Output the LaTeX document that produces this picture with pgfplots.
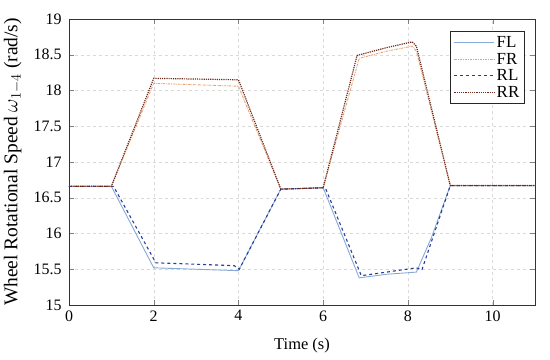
\documentclass[border=0pt]{standalone}
\usepackage{pgfplots}
\pgfplotsset{compat=1.18}
\usepackage{fontspec}
\setmainfont{Liberation Serif}
\definecolor{cFL}{HTML}{86A9D8}
\definecolor{cFR}{HTML}{E8A070}
\definecolor{cRL}{HTML}{2A3C96}
\definecolor{cRR}{HTML}{6B2A1E}
\begin{document}
\begin{tikzpicture}
\begin{axis}[
  scale only axis, width=466bp, height=286bp,
  xmin=0, xmax=11, ymin=15, ymax=19,
  xtick={0,2,...,10}, ytick={15,15.5,...,19},
  yticklabel style={/pgf/number format/fixed, xshift=-4pt},
  xticklabel style={yshift=-2pt},
  /pgf/number format/assume math mode=true,
  tick label style={font=\fontsize{16}{18}\selectfont},
  xlabel style={font=\fontsize{16.5}{19}\selectfont, yshift=-10pt},
  ylabel style={font=\fontsize{19.5}{22}\selectfont, yshift=5pt},
  xlabel={Time (s)},
  ylabel={Wheel Rotational Speed $\omega_{1-4}$ (rad/s)},
  tick align=inside, axis line style={line width=0.9pt, black!80},
  major tick length=5pt,
  grid=major, major grid style={dashed, gray!30},
  legend style={at={(rel axis cs:0.978,0.958)}, anchor=north east, draw=black!85, line width=0.9pt, font=\fontsize{17}{19}\selectfont, row sep=0pt, inner sep=3pt},
  legend cell align=left,
  legend image code/.code={\draw[#1] (0cm,0cm) -- (1.4cm,0cm);},
]
\coordinate (SW) at (rel axis cs:0,0);
\coordinate (NE) at (rel axis cs:1,1);
\addplot[cFL, line width=0.9pt] coordinates {
(0,16.66) (1.0,16.66) (2.0,15.52) (3.0,15.50) (4.0,15.48) (5.0,16.62) (6.0,16.64)
(6.85,15.38) (7.5,15.43) (8.2,15.46) (8.56,15.95) (9.0,16.67) (11,16.67)};
\addlegendentry{FL}
\addplot[cFR, line width=0.9pt, dash pattern=on 2.5pt off 1pt on 0.6pt off 1pt] coordinates {
(0,16.66) (1.0,16.66) (2.0,18.10) (3.0,18.08) (4.0,18.06) (5.0,16.62) (6.0,16.64)
(6.85,18.45) (7.5,18.55) (8.1,18.62) (8.2,18.55) (9.0,16.67) (11,16.67)};
\addlegendentry{FR}
\addplot[cRL, line width=1.1pt, dashed] coordinates {
(0,16.66) (1.05,16.66) (2.05,15.59) (3.0,15.57) (3.9,15.55) (4.02,15.50) (5.0,16.62) (6.05,16.64)
(6.9,15.41) (7.5,15.46) (8.2,15.52) (8.33,15.49) (9.0,16.67) (11,16.67)};
\addlegendentry{RL}
\addplot[cRR, line width=1.2pt, densely dotted] coordinates {
(0,16.66) (1.0,16.66) (2.0,18.17) (3.0,18.16) (4.0,18.15) (5.0,16.62) (6.0,16.64)
(6.8,18.49) (7.5,18.60) (8.1,18.68) (8.2,18.62) (9.0,16.67) (11,16.67)};
\addlegendentry{RR}
\end{axis}
\pgfresetboundingbox
\path ([shift={(-69bp,-55bp)}]SW) rectangle ([shift={(15bp,19bp)}]NE);
\end{tikzpicture}
\end{document}
